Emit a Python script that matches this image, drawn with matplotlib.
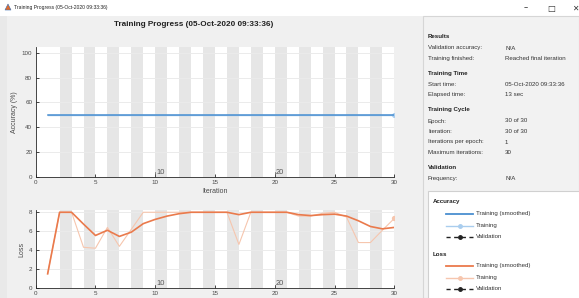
import matplotlib
matplotlib.use('Agg')
import matplotlib.pyplot as plt
import matplotlib.patches as patches
from matplotlib.lines import Line2D
import numpy as np

plt.rcParams['font.family'] = ['Liberation Sans', 'DejaVu Sans']

# ---- data ----
iterations = list(range(1, 31))
acc_train = [50.0] * 30
acc_smooth = [50.0] * 30
loss_train = [1.5, 8.0, 8.0, 4.3, 4.2, 6.4, 4.4, 6.2, 8.0, 8.0,
              8.0, 8.0, 8.0, 8.0, 8.0, 8.0, 4.6, 8.0, 8.0, 8.0,
              8.0, 7.6, 7.6, 7.9, 8.0, 7.5, 4.8, 4.8, 6.1, 7.35]
loss_smooth = [1.5, 8.0, 8.0, 6.75, 5.55, 6.1, 5.45, 5.9, 6.8, 7.25,
               7.6, 7.85, 8.0, 8.0, 8.0, 8.0, 7.75, 8.0, 8.0, 8.0,
               8.0, 7.75, 7.65, 7.75, 7.8, 7.6, 7.1, 6.5, 6.25, 6.4]
shaded_epochs = list(range(2, 29, 2))
epoch_marks = [10, 20]

info_sections = [
    ('Results', [('Validation accuracy:', 'N/A'),
                 ('Training finished:', 'Reached final iteration')]),
    ('Training Time', [('Start time:', '05-Oct-2020 09:33:36'),
                       ('Elapsed time:', '13 sec')]),
    ('Training Cycle', [('Epoch:', '30 of 30'),
                        ('Iteration:', '30 of 30'),
                        ('Iterations per epoch:', '1'),
                        ('Maximum iterations:', '30')]),
    ('Validation', [('Frequency:', 'N/A')]),
]

title_txt = 'Training Progress (05-Oct-2020 09:33:36)'

W, H = 579, 298
BLUE = '#4a8fd0'
LBLUE = '#a9cdee'
ORANGE = '#ea7a4c'
LORANGE = '#f6c6ae'
BAND = '#e6e6e6'
TXT = '#4a4a4a'


def px(x0, y0, x1, y1):
    return [x0 / W, 1 - y1 / H, (x1 - x0) / W, (y1 - y0) / H]


fig = plt.figure(figsize=(W / 100, H / 100), dpi=100)
fig.patch.set_facecolor('#e9e9e9')

# window chrome
fig.patches.append(patches.Rectangle((0, 1 - 16 / H), 1, 16 / H, transform=fig.transFigure,
                                     facecolor='white', edgecolor='none', zorder=-2))
fig.patches.append(patches.Rectangle((7 / W, 0), (423 - 7) / W, 1 - 16 / H, transform=fig.transFigure,
                                     facecolor='#f0f0f0', edgecolor='none', zorder=-2))
fig.patches.append(patches.Rectangle((423 / W, 0), (W - 423) / W, 1 - 16 / H, transform=fig.transFigure,
                                     facecolor='#f2f2f2', edgecolor='#d6d6d6', lw=0.8, zorder=-2))
fig.patches.append(patches.Rectangle((428 / W, -0.01), (W - 426) / W, 1 - 191 / H + 0.01,
                                     transform=fig.transFigure,
                                     facecolor='white', edgecolor='#d0d0d0', lw=0.8, zorder=-1))
fig.patches.append(patches.Polygon([[5 / W, 1 - 10 / H], [8 / W, 1 - 4 / H], [11 / W, 1 - 10 / H]],
                                   closed=True, transform=fig.transFigure,
                                   facecolor='#e06a2c', edgecolor='#3a6fb0', lw=0.4, zorder=1))
fig.text(14 / W, 1 - 7.5 / H, title_txt, fontsize=3.6, color='#222222', va='center', ha='left')
fig.text(526 / W, 1 - 8 / H, '\u2013', fontsize=6, color='#333333', va='center', ha='center',
         family='DejaVu Sans')
fig.text(551 / W, 1 - 8 / H, '\u25a1', fontsize=6, color='#333333', va='center', ha='center',
         family='DejaVu Sans')
fig.text(575 / W, 1 - 8 / H, '\u2715', fontsize=5.5, color='#333333', va='center', ha='center',
         family='DejaVu Sans')

fig.text(194 / W, 1 - 24.5 / H, title_txt, fontsize=5.9, fontweight='bold', color='#222222',
         ha='center', va='center')


def style_axes(ax, ylim, yticks, ylabel):
    ax.set_zorder(2)
    ax.set_facecolor('white')
    ax.set_xlim(0, 30)
    ax.set_ylim(*ylim)
    ax.set_yticks(yticks)
    ax.set_xticks([0, 5, 10, 15, 20, 25, 30])
    for e in shaded_epochs:
        ax.axvspan(e, e + 1, color=BAND, lw=0, zorder=0)
    ax.grid(axis='y', color='#ebebeb', lw=0.7, zorder=0.5)
    ax.set_axisbelow(True)
    for s in ['top', 'right']:
        ax.spines[s].set_visible(False)
    for s in ['left', 'bottom']:
        ax.spines[s].set_color('#262626')
        ax.spines[s].set_linewidth(0.6)
    ax.tick_params(direction='in', length=2.5, width=0.6, labelsize=4.5,
                   colors='#262626', labelcolor=TXT, pad=2.5)
    ax.set_ylabel(ylabel, fontsize=5, color=TXT, labelpad=3)
    for e in epoch_marks:
        ax.plot([e, e], [ylim[0], ylim[0] + (ylim[1] - ylim[0]) * 0.035],
                color='#555555', lw=0.5, zorder=3)
        ax.text(e + 0.08, ylim[0] + (ylim[1] - ylim[0]) * 0.01, str(e), fontsize=5.4,
                color='#555555', ha='left', va='bottom', zorder=3)


ax1 = fig.add_axes(px(35.7, 47, 394.3, 177))
style_axes(ax1, (0, 104.6), [0, 20, 40, 60, 80, 100], 'Accuracy (%)')
ax1.plot(iterations, acc_train, color=LBLUE, lw=1.0, zorder=2)
ax1.plot(iterations[-1:], acc_train[-1:], 'o', color=LBLUE, ms=2.5, zorder=2)
ax1.plot(iterations, acc_smooth, color=BLUE, lw=1.1, zorder=3)
ax1.set_xlabel('Iteration', fontsize=5, color=TXT, labelpad=2)
ax1.yaxis.set_label_coords(-0.05, 0.5)

ax2 = fig.add_axes(px(35.7, 210, 394.3, 288))
style_axes(ax2, (0, 8.24), [0, 2, 4, 6, 8], 'Loss')
ax2.plot(iterations, loss_train, color=LORANGE, lw=0.8, zorder=2)
ax2.plot(iterations[-1:], loss_train[-1:], 'o', color=LORANGE, ms=2.8, zorder=2)
ax2.plot(iterations, loss_smooth, color=ORANGE, lw=1.2, zorder=3)
ax2.yaxis.set_label_coords(-0.03, 0.5)

# info panel
FS = 4.4
y = 37
for head, rows in info_sections:
    fig.text(428 / W, 1 - y / H, head, fontsize=FS, fontweight='bold', color='#222222', va='center')
    y += 11
    for k, v in rows:
        fig.text(428 / W, 1 - y / H, k, fontsize=FS, color='#333333', va='center')
        fig.text(505 / W, 1 - y / H, v, fontsize=FS, color='#333333', va='center')
        y += 10.5
    y += 4.5

# legend panel
leg = [
    ('Accuracy', 202, [(BLUE, '-', None, 'Training (smoothed)'),
                       (LBLUE, '-', 'o', 'Training'),
                       ('#222222', '--', 'o', 'Validation')]),
    ('Loss', 254, [(ORANGE, '-', None, 'Training (smoothed)'),
                   (LORANGE, '-', 'o', 'Training'),
                   ('#222222', '--', 'o', 'Validation')]),
]
for head, y0, items in leg:
    fig.text(433 / W, 1 - y0 / H, head, fontsize=FS, fontweight='bold', color='#222222', va='center')
    yy = y0 + 12
    for col, ls, mk, lab in items:
        yf = 1 - yy / H
        fig.add_artist(Line2D([446 / W, 473 / W], [yf, yf], transform=fig.transFigure,
                              color=col, ls=ls, lw=1.0 if mk else 1.3,
                              dashes=(3, 2.5) if ls == '--' else (None, None)))
        if mk:
            fig.add_artist(Line2D([459.5 / W], [yf], transform=fig.transFigure, marker='o',
                                  color=col, ms=2.5, lw=0))
        fig.text(476 / W, yf, lab, fontsize=FS, color='#333333', va='center')
        yy += 11.5

fig.savefig('out.png', dpi=100, facecolor=fig.get_facecolor())
